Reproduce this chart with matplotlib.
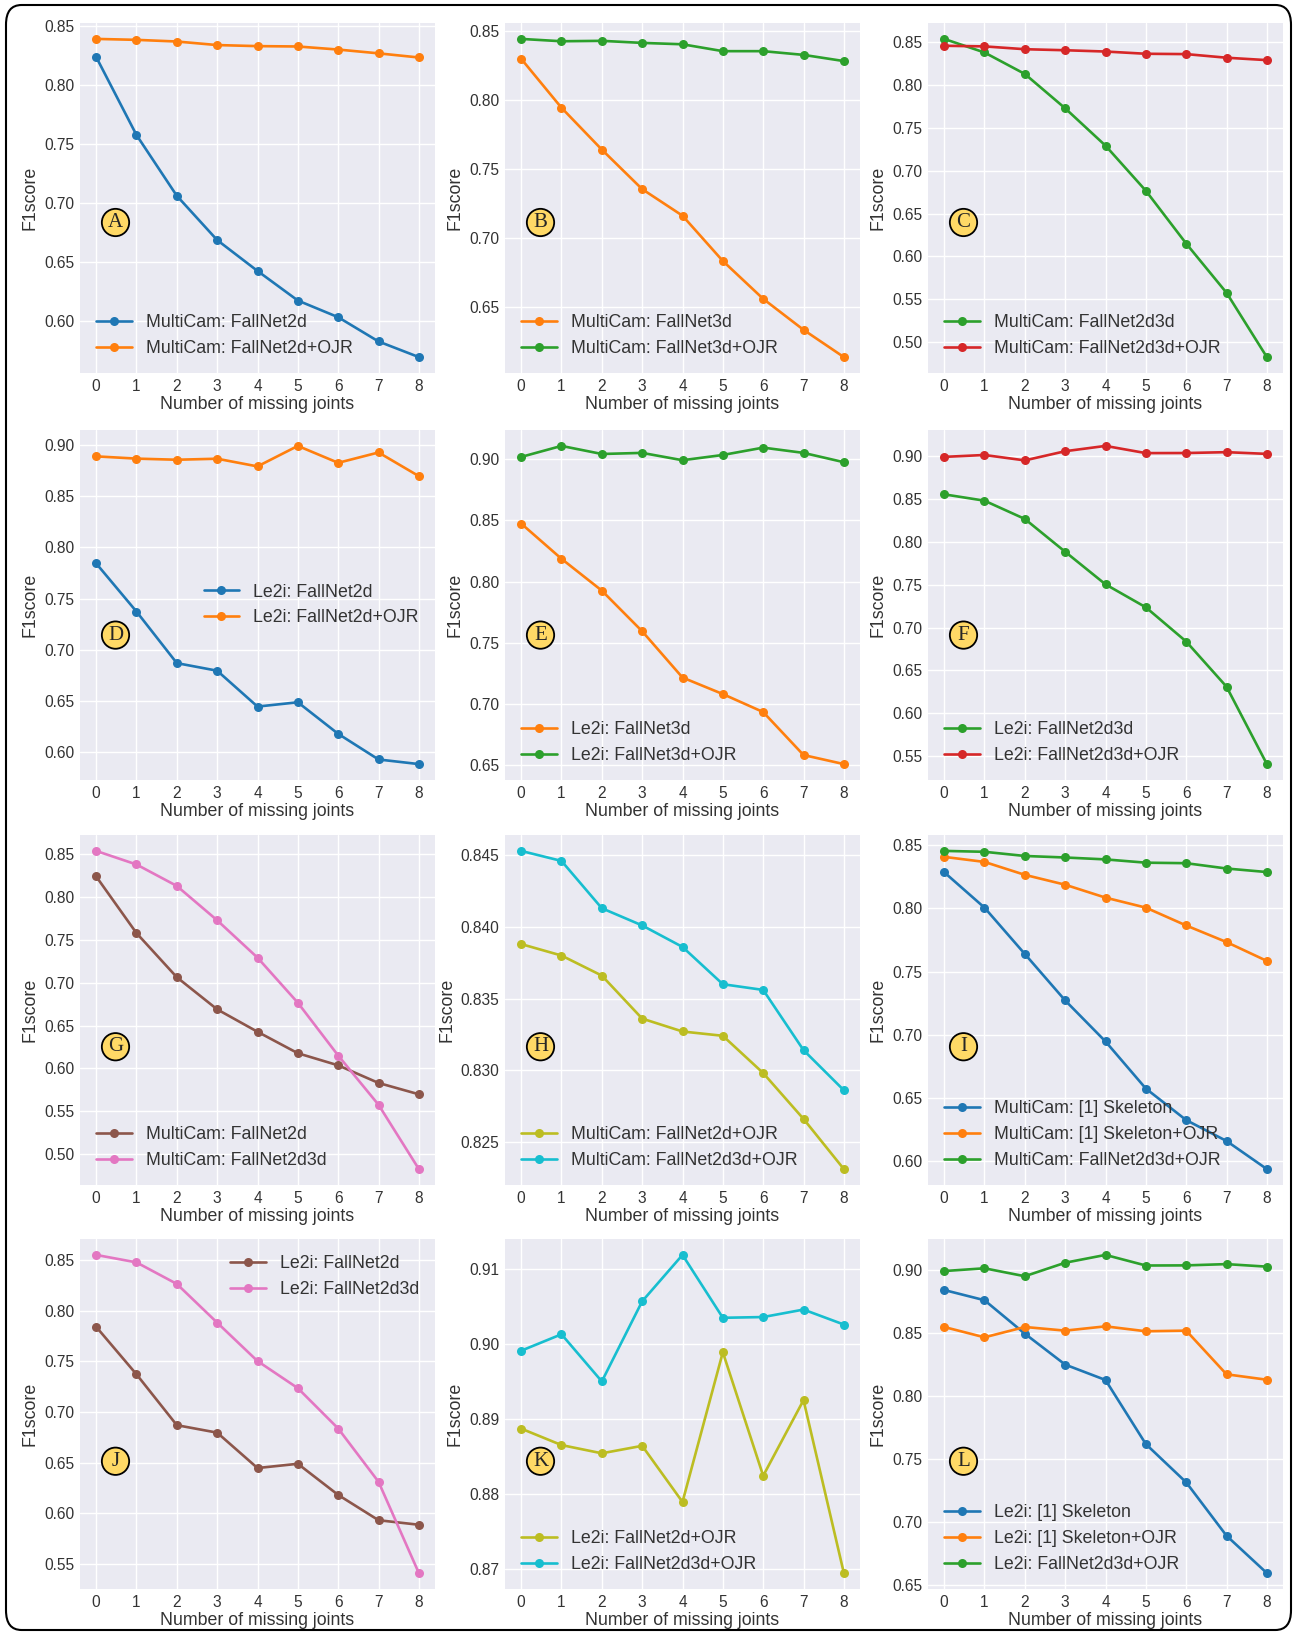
import matplotlib
matplotlib.use('Agg')
import matplotlib.pyplot as plt
from matplotlib.patches import FancyBboxPatch
from matplotlib.ticker import MultipleLocator

plt.style.use('seaborn-v0_8')
plt.rcParams['font.family'] = ['Liberation Sans', 'DejaVu Sans']

joints = [0, 1, 2, 3, 4, 5, 6, 7, 8]

# MultiCam
mc_2d = [0.8236, 0.7576, 0.7062, 0.6688, 0.6427, 0.6177, 0.6036, 0.5831, 0.5699]
mc_2d_ojr = [0.8388, 0.8380, 0.8366, 0.8336, 0.8327, 0.8324, 0.8298, 0.8266, 0.8231]
mc_3d = [0.8300, 0.7944, 0.7640, 0.7353, 0.7160, 0.6831, 0.6556, 0.6331, 0.6133]
mc_3d_ojr = [0.8444, 0.8427, 0.8430, 0.8415, 0.8405, 0.8355, 0.8355, 0.8328, 0.8283]
mc_2d3d = [0.8533, 0.8375, 0.8125, 0.7725, 0.7290, 0.6765, 0.6150, 0.5577, 0.4828]
mc_2d3d_ojr = [0.8453, 0.8446, 0.8413, 0.8401, 0.8386, 0.8360, 0.8356, 0.8314, 0.8286]
mc_skel = [0.8285, 0.8005, 0.7639, 0.7272, 0.6948, 0.6576, 0.6327, 0.6162, 0.5940]
mc_skel_ojr = [0.8406, 0.8366, 0.8264, 0.8186, 0.8084, 0.8005, 0.7864, 0.7733, 0.7584]

# Le2i
le_2d = [0.7843, 0.7373, 0.6870, 0.6796, 0.6446, 0.6488, 0.6180, 0.5930, 0.5885]
le_2d_ojr = [0.8887, 0.8865, 0.8854, 0.8864, 0.8789, 0.8989, 0.8824, 0.8925, 0.8694]
le_3d = [0.8475, 0.8187, 0.7927, 0.7595, 0.7217, 0.7082, 0.6935, 0.6584, 0.6510]
le_3d_ojr = [0.9019, 0.9109, 0.9043, 0.9052, 0.8992, 0.9035, 0.9095, 0.9052, 0.8976]
le_2d3d = [0.8554, 0.8480, 0.8267, 0.7884, 0.7504, 0.7236, 0.6837, 0.6310, 0.5407]
le_2d3d_ojr = [0.8991, 0.9013, 0.8950, 0.9057, 0.9119, 0.9035, 0.9036, 0.9046, 0.9026]
le_skel = [0.8841, 0.8760, 0.8495, 0.8250, 0.8128, 0.7620, 0.7317, 0.6894, 0.6598]
le_skel_ojr = [0.8548, 0.8466, 0.8548, 0.8519, 0.8553, 0.8514, 0.8519, 0.8173, 0.8130]

azul = '#1f77b4'
naranja = '#ff7f0e'
verde = '#2ca02c'
rojo = '#d62728'
marron = '#8c564b'
rosa = '#e377c2'
oliva = '#bcbd22'
cian = '#17becf'

# letra, series, paso de ticks, posicion de leyenda
paneles = [
    ('A', [(mc_2d, azul, 'MultiCam: FallNet2d'), (mc_2d_ojr, naranja, 'MultiCam: FallNet2d+OJR')], 0.05, 'lower left'),
    ('B', [(mc_3d, naranja, 'MultiCam: FallNet3d'), (mc_3d_ojr, verde, 'MultiCam: FallNet3d+OJR')], 0.05, 'lower left'),
    ('C', [(mc_2d3d, verde, 'MultiCam: FallNet2d3d'), (mc_2d3d_ojr, rojo, 'MultiCam: FallNet2d3d+OJR')], 0.05, 'lower left'),
    ('D', [(le_2d, azul, 'Le2i: FallNet2d'), (le_2d_ojr, naranja, 'Le2i: FallNet2d+OJR')], 0.05, 'center right'),
    ('E', [(le_3d, naranja, 'Le2i: FallNet3d'), (le_3d_ojr, verde, 'Le2i: FallNet3d+OJR')], 0.05, 'lower left'),
    ('F', [(le_2d3d, verde, 'Le2i: FallNet2d3d'), (le_2d3d_ojr, rojo, 'Le2i: FallNet2d3d+OJR')], 0.05, 'lower left'),
    ('G', [(mc_2d, marron, 'MultiCam: FallNet2d'), (mc_2d3d, rosa, 'MultiCam: FallNet2d3d')], 0.05, 'lower left'),
    ('H', [(mc_2d_ojr, oliva, 'MultiCam: FallNet2d+OJR'), (mc_2d3d_ojr, cian, 'MultiCam: FallNet2d3d+OJR')], 0.005, 'lower left'),
    ('I', [(mc_skel, azul, 'MultiCam: [1] Skeleton'), (mc_skel_ojr, naranja, 'MultiCam: [1] Skeleton+OJR'),
           (mc_2d3d_ojr, verde, 'MultiCam: FallNet2d3d+OJR')], 0.05, 'lower left'),
    ('J', [(le_2d, marron, 'Le2i: FallNet2d'), (le_2d3d, rosa, 'Le2i: FallNet2d3d')], 0.05, 'upper right'),
    ('K', [(le_2d_ojr, oliva, 'Le2i: FallNet2d+OJR'), (le_2d3d_ojr, cian, 'Le2i: FallNet2d3d+OJR')], 0.01, 'lower left'),
    ('L', [(le_skel, azul, 'Le2i: [1] Skeleton'), (le_skel_ojr, naranja, 'Le2i: [1] Skeleton+OJR'),
           (le_2d3d_ojr, verde, 'Le2i: FallNet2d3d+OJR')], 0.05, 'lower left'),
]

W, H = 1298, 1634
fig = plt.figure(figsize=(W / 100, H / 100), dpi=100)
fig.patch.set_facecolor('white')

izq = [80, 505, 928]
arriba = [23, 430, 835, 1239]
ancho = 355
alto = 350
letra_y = [0.43, 0.414, 0.395, 0.365]

for i, (letra, series, paso, loc) in enumerate(paneles):
    fila, col = i // 3, i % 3
    ax = fig.add_axes([izq[col] / W, 1 - (arriba[fila] + alto) / H, ancho / W, alto / H])
    for vals, color, nombre in series:
        ax.plot(joints, vals, marker='o', color=color, lw=1.9, ms=6.5, label=nombre)
    ax.set_xticks(joints)
    ax.yaxis.set_major_locator(MultipleLocator(paso))
    ax.tick_params(labelsize=11.2, colors='#333333', pad=4)
    ax.set_xlabel('Number of missing joints', fontsize=12.8, color='#333333', labelpad=1.5)
    ax.set_ylabel('F1score', fontsize=12.8, color='#333333', labelpad=4)
    ax.legend(loc=loc, fontsize=12.8, labelcolor='#333333', handlelength=2.0)
    ax.text(0.1, letra_y[fila], letra, transform=ax.transAxes, ha='center', va='center',
            family=['Liberation Serif', 'DejaVu Serif'], fontsize=15,
            bbox=dict(boxstyle='circle,pad=0.2', fc='#ffd966', ec='black', lw=1.3))

# marco redondeado alrededor de todo
marco = FancyBboxPatch((6 / W, 4 / H), 1 - 13 / W, 1 - 9 / H,
                       boxstyle='round,pad=0,rounding_size=0.012',
                       transform=fig.transFigure, fill=False, ec='black', lw=1.5)
fig.patches.append(marco)

plt.savefig('out.png', dpi=100)
